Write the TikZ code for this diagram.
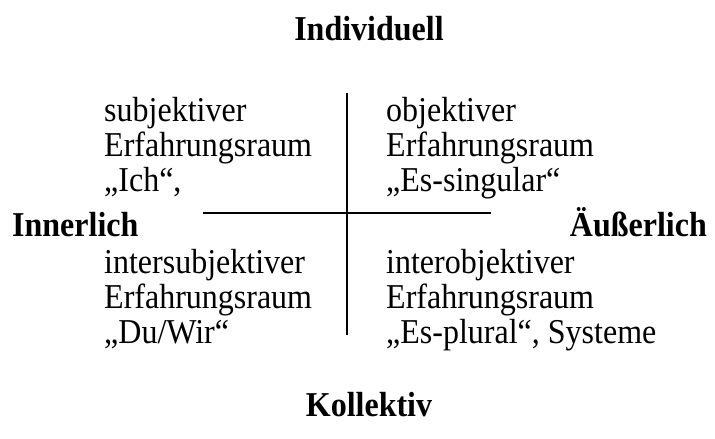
\documentclass[tikz,border=0pt]{standalone}
\usepackage{fontspec}
\setmainfont{Liberation Serif}
\newcommand{\tall}[1]{\scalebox{1}[1.09]{#1}}
\begin{document}
\begin{tikzpicture}[x=1pt,y=-1pt,
  txt/.style={inner sep=0pt,anchor=base west,font=\fontsize{32}{36}\selectfont},
  ttl/.style={inner sep=0pt,anchor=base,font=\fontsize{32}{36}\selectfont\bfseries},
  ln/.style={line width=1.6pt}]
\useasboundingbox (0,0) rectangle (715,439);
\node[ttl] (ind) at (369,40) {\tall{Individuell}};
\node[ttl] (kol) at (369,416) {\tall{Kollektiv}};
\node[ttl,anchor=base west] (inn) at (12,236) {\tall{Innerlich}};
\node[ttl,anchor=base east] (aeu) at (707,236) {\tall{Äußerlich}};
\node[txt] (a1) at (104,121) {\tall{subjektiver}};
\node[txt] (a2) at (104,156) {\tall{Erfahrungsraum}};
\node[txt] (a3) at (104,191) {\tall{„Ich“,}};
\node[txt] (b1) at (386,121) {\tall{objektiver}};
\node[txt] (b2) at (386,156) {\tall{Erfahrungsraum}};
\node[txt] (b3) at (386,191) {\tall{„Es-singular“}};
\node[txt] (c1) at (104,273) {\tall{intersubjektiver}};
\node[txt] (c2) at (104,308) {\tall{Erfahrungsraum}};
\node[txt] (c3) at (104,343) {\tall{„Du/Wir“}};
\node[txt] (d1) at (386,273) {\tall{interobjektiver}};
\node[txt] (d2) at (386,308) {\tall{Erfahrungsraum}};
\node[txt] (d3) at (386,343) {\tall{„Es-plural“, Systeme}};
\coordinate (vt) at (347,93);
\coordinate (vb) at (347,335);
\coordinate (hl) at (203,213);
\coordinate (hr) at (491,213);
\draw[ln] (vt) -- (vb);
\draw[ln] (hl) -- (hr);
\end{tikzpicture}
\end{document}
